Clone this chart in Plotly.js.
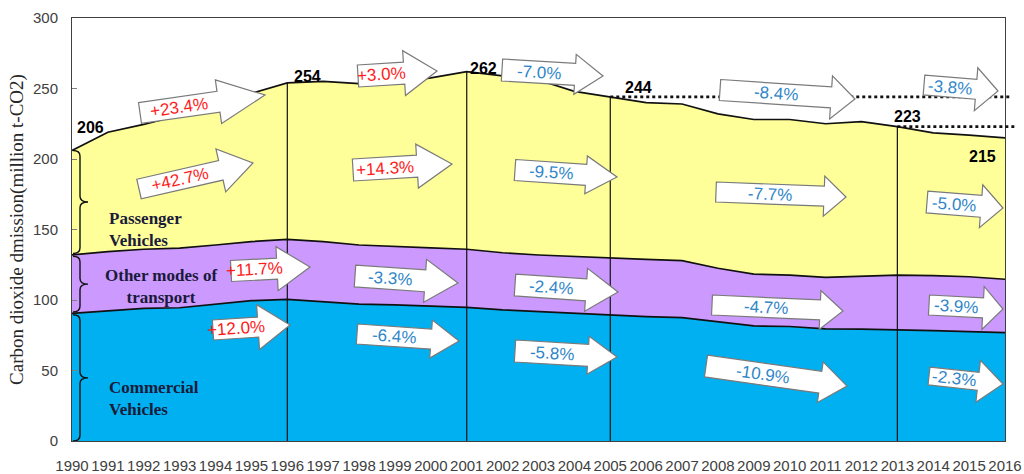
<!DOCTYPE html>
<html>
<head>
<meta charset="utf-8">
<script src="https://cdn.plot.ly/plotly-3.0.1.min.js"></script>
<style>html,body{margin:0;padding:0;background:#fff;}#chart{width:1024px;height:474px;}</style>
</head>
<body>
<div id="chart"></div>
<script>
// ---------------- data ----------------
const years = [1990,1991,1992,1993,1994,1995,1996,1997,1998,1999,2000,2001,2002,2003,2004,2005,2006,2007,2008,2009,2010,2011,2012,2013,2014,2015,2016];
const commercial = [90.5,92.4,94,94.5,97,99.5,100.5,98.8,97.1,96.5,95.7,94.8,93,91.7,90.3,89,88.2,87.5,84.6,81.6,81.2,79.5,79.3,79,78.3,77.6,76.9];
const otherModes = [41.5,41.9,42,42.3,42,41.9,42.5,42.6,41.9,41.3,41.2,41.2,40.5,40.2,40.4,40.5,40.6,40.4,37.9,36.8,36.5,36.6,37.7,38.7,39,38.9,37.8];
const passenger = [74,84.7,88.6,94.2,99,105.2,111,113.6,114.5,116.2,120.6,126,125.5,124.1,117.3,114.5,111.2,111.1,109.5,109.6,110.3,108.9,109.5,105.3,101.2,100.5,100.3];
const seriesNames = ["Commercial Vehicles","Other modes of transport","Passenger Vehicles"];
const braceLabels = ["Commercial<br>Vehicles","Other modes of<br>transport","Passenger<br>Vehicles"];
const markerYears = [1996,2001,2005,2013];
const labelYears = [1990,1996,2001,2005,2013,2016];
const labelValues = [206,254,262,244,223,215];
const refYears = [2005,2013];
const refValues = [244,223];
const pctTexts = ["+23.4%","+42.7%","+11.7%","+12.0%","+3.0%","+14.3%","-7.0%","-9.5%","-3.3%","-6.4%","-2.4%","-5.8%","-8.4%","-3.8%","-7.7%","-5.0%","-4.7%","-3.9%","-10.9%","-2.3%"];
const tickLabels = years.map(String);

// ---------------- geometry helpers (layout only) ----------------
const W = 1024, H = 474;
const M = {l:72, r:19, t:18, b:33};
const PW = W - M.l - M.r, PH = H - M.t - M.b;
const px = sx => (sx - M.l) / PW;
const py = sy => (H - M.b - sy) / PH;

// arrow placement in screen pixels: tail, tip, head length, shaft height, head height
const arrowGeo = [
  [140,113,265,95,47,21,44],
  [139,189,253,163,33,20,44],
  [231,271,310,267,33,21,44],
  [213,330,290,325,32,20,45],
  [358,76,437,71,33,22,45],
  [353,170,452,164,35,22,44],
  [502,70,603,76,28,22,40],
  [515,170,617,177,31,21,38],
  [355,276,458,283,33,22,43],
  [357,334,459,341,28,20,38],
  [515,285,618,292,32,22,43],
  [515,351,617,357,29,22,38],
  [720,90,855,99,24,21,43],
  [924,85,998,91,22,20,43],
  [716,192,846,197,22,20,40],
  [927,202,1003,208,22,22,43],
  [712,305,843,311,23,20,39],
  [929,305,1003,309,20,20,43],
  [706,366,847,386,27,22,41],
  [929,376,1003,384,25,18,42]
];
const labelShift = [[18,23],[20,6],[17,3],[28,9],[10,10],[-23,-19]];

// ---------------- traces ----------------
const fills = ["#00B0F0","#CC99FF","#FFFF99"];
const vals = [commercial, otherModes, passenger];
const traces = vals.map((v,i) => ({
  type:"scatter", mode:"lines", x:years, y:v, name:seriesNames[i],
  stackgroup:"one", fill:"tonexty", fillcolor:fills[i],
  line:{color:"#111", width:1.7, shape:"linear"}, hoverinfo:"x+y+name"
}));

const total = years.map((y,i) => commercial[i] + otherModes[i] + passenger[i]);
const purpleTop = years.map((y,i) => commercial[i] + otherModes[i]);

// ---------------- shapes ----------------
const shapes = [];
markerYears.forEach(yr => {
  const i = years.indexOf(yr);
  shapes.push({type:"line", xref:"x", yref:"y", x0:yr, x1:yr, y0:0, y1:total[i], line:{color:"#111", width:1.2}, layer:"above"});
});
refYears.forEach((yr,k) => {
  shapes.push({type:"line", xref:"paper", yref:"y", x0:(yr-years[0])/(years[years.length-1]-years[0]), x1:1.006 + k*0.004, y0:refValues[k], y1:refValues[k], line:{color:"#111", width:2.8, dash:"dot"}, layer:"above"});
});

// braces
function brace(top, bot) {
  const d = 4, m = (top + bot) / 2;
  return {type:"path", xref:"x", yref:"y", xsizemode:"pixel", xanchor:years[0],
    path:`M 1,${top} Q 8,${top} 8,${top-d} L 8,${m+d} Q 8,${m} 16,${m} Q 8,${m} 8,${m-d} L 8,${bot+d} Q 8,${bot} 1,${bot}`,
    line:{color:"#111", width:1.4}, layer:"above"};
}
shapes.push(brace(total[0], purpleTop[0] + 1));
shapes.push(brace(purpleTop[0] - 1, commercial[0] + 1));
shapes.push(brace(commercial[0] - 1, 0));

// arrows
const annotations = [];
arrowGeo.forEach((g,k) => {
  const [tx,ty,hx,hy,hl,sh,hh] = g;
  const dx = hx - tx, dy = hy - ty, L = Math.hypot(dx,dy);
  const ux = dx / L, uy = dy / L;
  const pt = (a,b) => {
    const sx = ux*a - uy*b, sy = uy*a + ux*b;
    return `${sx.toFixed(2)},${(-sy).toFixed(2)}`;
  };
  const s = sh/2, h = hh/2, base = L - hl;
  const path = `M ${pt(0,-s)} L ${pt(base,-s)} L ${pt(base,-h)} L ${pt(L,0)} L ${pt(base,h)} L ${pt(base,s)} L ${pt(0,s)} Z`;
  shapes.push({type:"path", xref:"paper", yref:"paper", xsizemode:"pixel", ysizemode:"pixel",
    xanchor:px(tx), yanchor:py(ty), path:path, fillcolor:"#ffffff", line:{color:"#7a7a7a", width:1.2}, layer:"above"});
  const cx = tx + ux*base/2, cy = ty + uy*base/2;
  const txt = pctTexts[k];
  annotations.push({xref:"paper", yref:"paper", x:px(cx), y:py(cy), text:txt, showarrow:false,
    textangle:Math.atan2(dy,dx)*180/Math.PI, xanchor:"center", yanchor:"middle",
    font:{family:"Liberation Sans, Arial, sans-serif", size:17, color: txt[0] === "+" ? "#FF1A1A" : "#2F86C8"}});
});

// value labels
labelYears.forEach((yr,k) => {
  annotations.push({xref:"x", yref:"y", x:yr, y:labelValues[k], text:String(labelValues[k]), showarrow:false,
    xshift:labelShift[k][0], yshift:labelShift[k][1], xanchor:"center", yanchor:"middle",
    font:{family:"Liberation Sans, Arial, sans-serif", size:16, color:"#000", weight:"bold"}});
});

// brace labels
const braceFont = {family:"Liberation Serif, Times New Roman, serif", size:17, color:"#1a1a3a", weight:"bold"};
annotations.push({xref:"paper", yref:"paper", x:px(107), y:py(398), text:"<b>"+braceLabels[0]+"</b>", showarrow:false, xanchor:"left", yanchor:"middle", align:"left", font:braceFont});
annotations.push({xref:"paper", yref:"paper", x:px(161), y:py(287), text:"<b>"+braceLabels[1]+"</b>", showarrow:false, xanchor:"center", yanchor:"middle", align:"center", font:braceFont});
annotations.push({xref:"paper", yref:"paper", x:px(107), y:py(229), text:"<b>"+braceLabels[2]+"</b>", showarrow:false, xanchor:"left", yanchor:"middle", align:"left", font:braceFont});

const layout = {
  width:W, height:H, margin:M, showlegend:false,
  paper_bgcolor:"#fff", plot_bgcolor:"#fff",
  xaxis:{range:[years[0], years[years.length-1]], tickvals:years, ticktext:tickLabels, ticks:"",
    showgrid:false, zeroline:false, showline:true, mirror:true, linecolor:"#404040", linewidth:1,
    ticklabelstandoff:11, tickangle:0,
    tickfont:{family:"Liberation Sans, Arial, sans-serif", size:15, color:"#404040"}},
  yaxis:{range:[0,300], tickvals:[0,50,100,150,200,250,300], ticks:"inside", ticklen:5, tickcolor:"#808080",
    showgrid:false, zeroline:false, showline:true, mirror:true, linecolor:"#404040", linewidth:1,
    ticklabelstandoff:10,
    tickfont:{family:"Liberation Sans, Arial, sans-serif", size:15, color:"#404040"},
    title:{text:"Carbon dioxide dmission(million t-CO2)", standoff:4,
      font:{family:"Liberation Serif, Times New Roman, serif", size:19, color:"#262626"}}},
  shapes:shapes, annotations:annotations
};

Plotly.newPlot("chart", traces, layout, {displayModeBar:false, staticPlot:true});
</script>
</body>
</html>
